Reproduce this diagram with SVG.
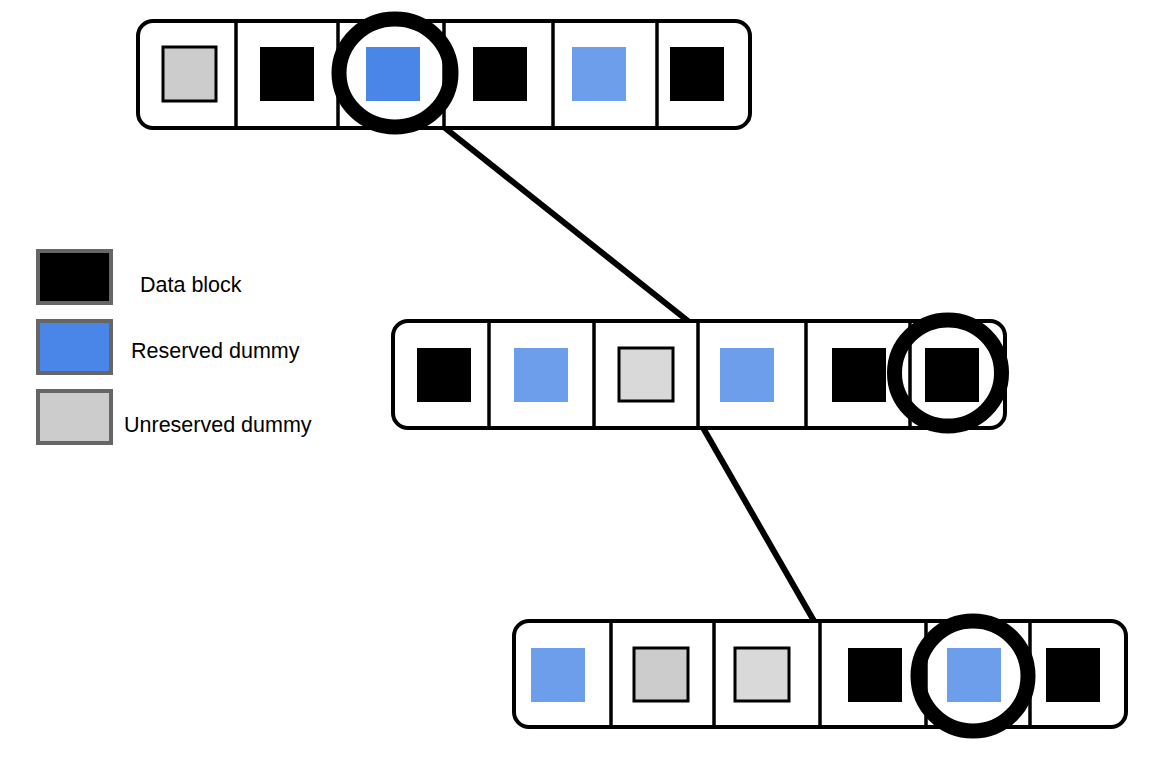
<svg xmlns="http://www.w3.org/2000/svg" width="1162" height="778" viewBox="0 0 1162 778">
<style>
.bar{fill:#fff;stroke:#000;stroke-width:4}
.div{stroke:#000;stroke-width:3.5}
.blk{fill:#000}
.rb{fill:#4a86e8}
.lb{fill:#6d9eeb}
.ub{fill:#d9d9d9;stroke:#000;stroke-width:3}
.ub2{fill:#cccccc;stroke:#000;stroke-width:3}
.ring{fill:none;stroke:#000;stroke-width:15}
.conn{stroke:#000;stroke-width:6}
.leg{stroke:#666;stroke-width:4}
.lt{font-family:"Liberation Sans",Arial,sans-serif;font-size:21.5px;fill:#000}
</style>
<rect width="1162" height="778" fill="#fff"/>
<g id="connectors">
<line class="conn" x1="440" y1="124" x2="688" y2="321"/>
<line class="conn" x1="702" y1="426" x2="814" y2="621"/>
</g>
<g id="bucket-top">
<rect class="bar" x="138" y="21" width="612" height="107" rx="15"/>
<line class="div" x1="236" y1="21" x2="236" y2="128"/>
<line class="div" x1="338" y1="21" x2="338" y2="128"/>
<line class="div" x1="444" y1="21" x2="444" y2="128"/>
<line class="div" x1="553" y1="21" x2="553" y2="128"/>
<line class="div" x1="657" y1="21" x2="657" y2="128"/>
<rect class="ub2" x="163" y="47" width="53" height="54"/>
<rect class="blk" x="260" y="47" width="54" height="54"/>
<rect class="rb" x="366" y="47" width="54" height="54"/>
<rect class="blk" x="473" y="47" width="54" height="54"/>
<rect class="lb" x="572" y="47" width="54" height="54"/>
<rect class="blk" x="670" y="47" width="54" height="54"/>
<ellipse class="ring" cx="395" cy="73" rx="56" ry="54"/>
</g>
<g id="bucket-middle">
<rect class="bar" x="393" y="321" width="612" height="107" rx="15"/>
<line class="div" x1="489" y1="321" x2="489" y2="428"/>
<line class="div" x1="594" y1="321" x2="594" y2="428"/>
<line class="div" x1="698" y1="321" x2="698" y2="428"/>
<line class="div" x1="806" y1="321" x2="806" y2="428"/>
<line class="div" x1="910" y1="321" x2="910" y2="428"/>
<rect class="blk" x="417" y="348" width="54" height="54"/>
<rect class="lb" x="514" y="348" width="54" height="54"/>
<rect class="ub" x="619" y="348" width="54" height="53"/>
<rect class="lb" x="720" y="348" width="54" height="54"/>
<rect class="blk" x="832" y="348" width="54" height="54"/>
<rect class="blk" x="925" y="348" width="54" height="54"/>
<ellipse class="ring" cx="948" cy="373" rx="53.5" ry="53"/>
</g>
<g id="bucket-bottom">
<rect class="bar" x="514" y="621" width="612" height="106" rx="15"/>
<line class="div" x1="611" y1="621" x2="611" y2="727"/>
<line class="div" x1="714" y1="621" x2="714" y2="727"/>
<line class="div" x1="820" y1="621" x2="820" y2="727"/>
<line class="div" x1="926" y1="621" x2="926" y2="727"/>
<line class="div" x1="1030" y1="621" x2="1030" y2="727"/>
<rect class="lb" x="531" y="648" width="54" height="54"/>
<rect class="ub2" x="634" y="648" width="54" height="53"/>
<rect class="ub" x="735" y="648" width="54" height="53"/>
<rect class="blk" x="848" y="648" width="54" height="54"/>
<rect class="lb" x="947" y="648" width="54" height="54"/>
<rect class="blk" x="1046" y="648" width="54" height="54"/>
<ellipse class="ring" cx="973" cy="676" rx="55" ry="55"/>
</g>
<g id="legend-data">
<rect class="leg blk" x="38" y="251" width="73" height="52"/>
<text class="lt" x="140" y="292">Data block</text>
</g>
<g id="legend-reserved">
<rect class="leg rb" x="38" y="321" width="73" height="52"/>
<text class="lt" x="131" y="358">Reserved dummy</text>
</g>
<g id="legend-unreserved">
<rect class="leg" x="38" y="391" width="73" height="52" fill="#cccccc"/>
<text class="lt" x="124" y="432">Unreserved dummy</text>
</g>
</svg>
